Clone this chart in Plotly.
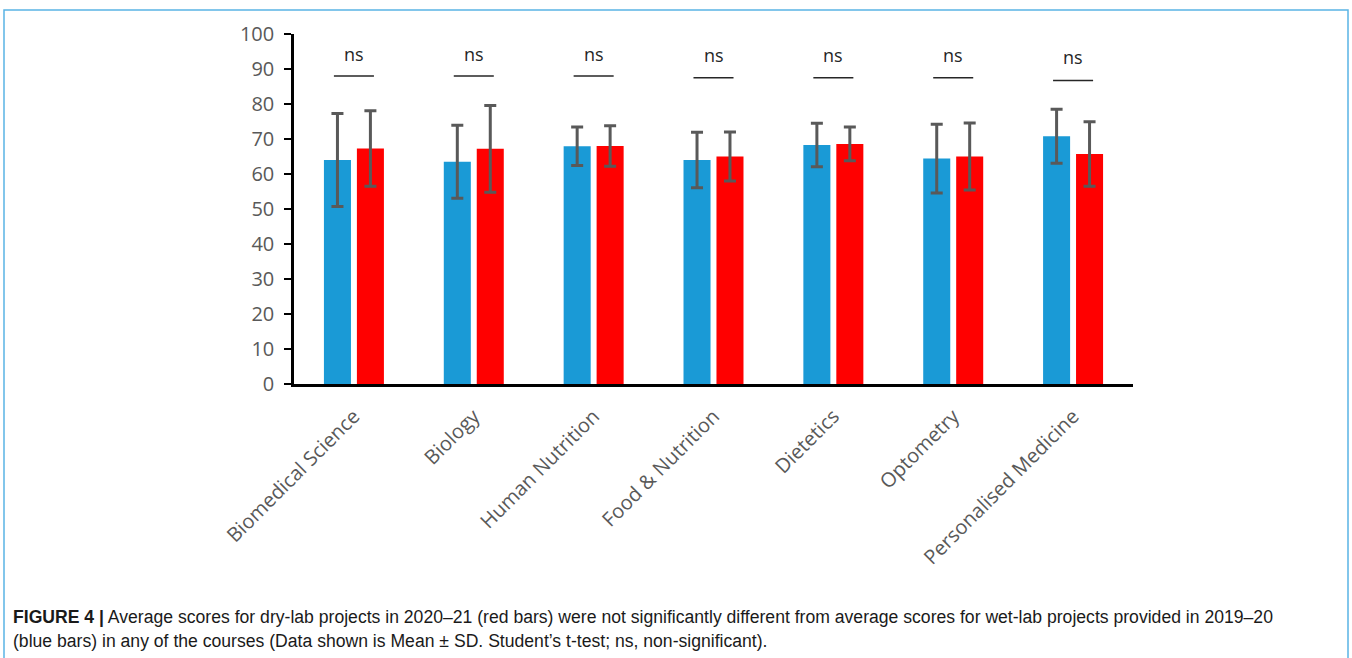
import plotly.graph_objects as go

# Courses compared
courses = ["Biomedical Science", "Biology", "Human Nutrition", "Food & Nutrition",
           "Dietetics", "Optometry", "Personalised Medicine"]

# Wet-lab projects 2019-20 (blue): mean and SD
wet_mean = [64.0, 63.5, 67.9, 64.0, 68.3, 64.4, 70.8]
wet_sd = [13.3, 10.4, 5.5, 7.9, 6.2, 9.8, 7.7]

# Dry-lab projects 2020-21 (red): mean and SD
dry_mean = [67.3, 67.2, 68.0, 65.0, 68.6, 65.0, 65.7]
dry_sd = [10.8, 12.4, 5.8, 7.0, 4.8, 9.6, 9.2]

# Significance label per course
sig_labels = ["ns", "ns", "ns", "ns", "ns", "ns", "ns"]

y_ticks = [0, 10, 20, 30, 40, 50, 60, 70, 80, 90, 100]

# Page geometry (pixels)
W, H = 1352, 658
L, R, T, B = 294, 1133, 34, 384

def px_x(p):
    return (p - L) / (R - L)

def px_y(p):
    return (B - p) / (B - T)

BLUE = "#1a9ad6"
RED = "#ff0000"
ERR = "#595959"
TICK_GREY = "#595959"

fig = go.Figure()
fig.add_trace(go.Bar(
    x=courses, y=wet_mean, name="2019-20 wet-lab",
    marker=dict(color=BLUE, line=dict(width=0)),
    error_y=dict(type="data", array=wet_sd, visible=True,
                 color=ERR, thickness=3, width=6),
))
fig.add_trace(go.Bar(
    x=courses, y=dry_mean, name="2020-21 dry-lab",
    marker=dict(color=RED, line=dict(width=0)),
    error_y=dict(type="data", array=dry_sd, visible=True,
                 color=ERR, thickness=3, width=6),
))

shapes = []
annotations = []

# significance bars with "ns" labels above each course
bracket_line = [88, 88, 88, 87.5, 87.5, 87.5, 86.7]
bracket_text = [94.3, 94.3, 94.3, 93.9, 93.9, 93.9, 93.3]
for i, lab in enumerate(sig_labels):
    shapes.append(dict(type="line", xref="x", yref="y",
                       x0=i - 0.167, x1=i + 0.167,
                       y0=bracket_line[i], y1=bracket_line[i],
                       line=dict(color="#262626", width=1.5)))
    annotations.append(dict(xref="x", yref="y", x=i, y=bracket_text[i],
                            text=lab, showarrow=False,
                            font=dict(family="Open Sans", size=18, color="#262626"),
                            xanchor="center", yanchor="middle"))

# frame around the figure panel
shapes.append(dict(type="rect", xref="paper", yref="paper",
                   x0=px_x(4), x1=px_x(1348), y0=px_y(10), y1=px_y(720),
                   line=dict(color="#5ab4e5", width=1.5), fillcolor="rgba(0,0,0,0)",
                   layer="below"))

cap_font = dict(family="Liberation Sans, Arial", size=17.6, color="#1a1a1a")
annotations.append(dict(
    xref="paper", yref="paper", x=px_x(11), y=px_y(617),
    xanchor="left", yanchor="middle", showarrow=False, font=cap_font,
    text="<b>FIGURE 4 |</b> Average scores for dry-lab projects in 2020–21 (red bars) were not "
         "significantly different from average scores for wet-lab projects provided in 2019–20",
))
annotations.append(dict(
    xref="paper", yref="paper", x=px_x(11), y=px_y(641),
    xanchor="left", yanchor="middle", showarrow=False, font=cap_font,
    text="(blue bars) in any of the courses (Data shown is Mean ± SD. Student’s t-test; ns, "
         "non-significant).",
))

fig.update_layout(
    width=W, height=H,
    margin=dict(l=L, r=W - R, t=T, b=H - B, pad=0),
    paper_bgcolor="white", plot_bgcolor="white",
    barmode="group", bargap=0.45, bargroupgap=0.18,
    showlegend=False,
    shapes=shapes, annotations=annotations,
    font=dict(family="Open Sans"),
)
fig.update_yaxes(
    range=[0, 100], tickvals=y_ticks, showgrid=False, zeroline=False,
    showline=True, linecolor="black", linewidth=2.5,
    ticks="outside", ticklen=7, tickwidth=2, tickcolor="black",
    tickfont=dict(family="Open Sans", size=20, color=TICK_GREY),
    ticklabelstandoff=6,
)
fig.update_xaxes(
    showgrid=False, showline=True, linecolor="black", linewidth=2.5,
    ticks="", tickangle=-45,
    tickfont=dict(family="Open Sans", size=20, color=TICK_GREY),
    ticklabelstandoff=10,
)

fig.write_html("out.html")
